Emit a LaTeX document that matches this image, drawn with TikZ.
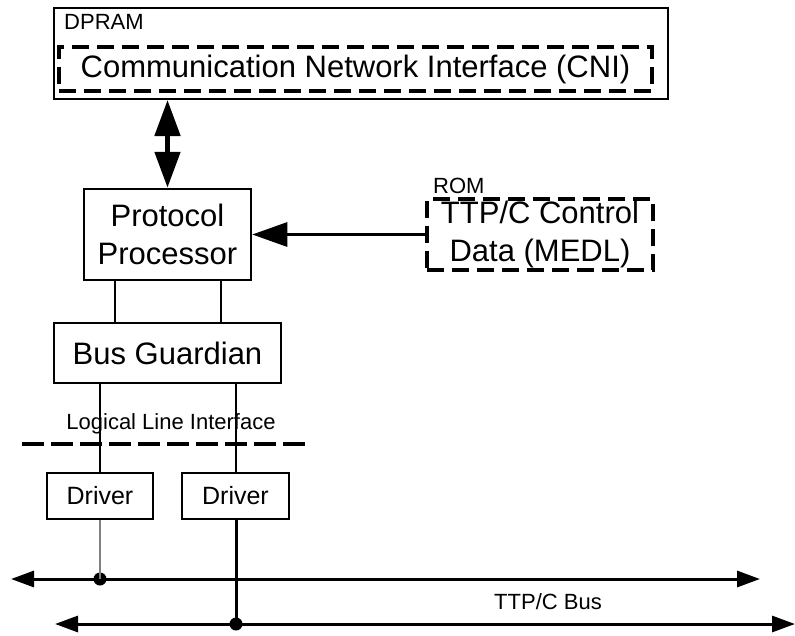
\documentclass[tikz,border=0pt]{standalone}
\usepackage{fontspec}
\setmainfont{Liberation Sans}
\usetikzlibrary{arrows.meta}
\begin{document}
\begin{tikzpicture}[x=1pt,y=-1pt,
  box/.style={draw, line width=2.5pt, rectangle, inner sep=0pt, align=center},
  outerbox/.style={draw, line width=2pt, rectangle, inner sep=0pt},
  dbox/.style={draw, line width=4pt, dash pattern=on 17pt off 8pt, rectangle, inner sep=0pt, align=center},
  big/.style={font=\fontsize{31}{38}\selectfont},
  mid/.style={font=\fontsize{25}{30}\selectfont},
  small/.style={font=\fontsize{22}{26}\selectfont},
  wire/.style={line width=2.5pt},
  busline/.style={line width=3pt, {Triangle[length=23pt,width=16pt]}-{Triangle[length=23pt,width=16pt]}},
  dot/.style={circle, fill=black, inner sep=0pt, minimum size=13pt}
]
\useasboundingbox (0,0) rectangle (795,635);

% memory blocks
\node[outerbox, minimum width=614pt, minimum height=91pt] (dpram) at (361,53.5) {};
\node[small, anchor=base west, inner sep=0pt] (dpramlbl) at (64,29) {DPRAM};
\node[dbox, big, minimum width=593pt, minimum height=44pt] (cni) at (355.5,69) {Communication Network Interface (CNI)};

\node[dbox, big, minimum width=226pt, minimum height=71pt] (medl) at (540,234.5) {TTP/C Control\\Data (MEDL)};
\node[small, anchor=base west, inner sep=0pt] (romlbl) at (433,193) {ROM};

% controller chain
\node[box, big, minimum width=167pt, minimum height=91pt] (pp) at (167.5,234.5) {Protocol\\Processor};
\node[box, big, minimum width=227pt, minimum height=60pt] (bg) at (167.5,353) {Bus Guardian};
\node[box, mid, minimum width=106pt, minimum height=46pt] (drv1) at (100,496) {Driver};
\node[box, mid, minimum width=107pt, minimum height=46pt] (drv2) at (235.5,496) {Driver};

% interface line
\coordinate (lliA) at (22,444);
\coordinate (lliB) at (312,444);
\draw[line width=4pt, dash pattern=on 22pt off 7pt] (lliA) -- (lliB);
\node[small] (llilbl) at (171,424) {Logical Line Interface};

% arrows into the protocol processor
\draw[line width=5pt, {Triangle[length=36pt,width=25pt]}-{Triangle[length=36pt,width=25pt]}]
  (dpram.south -| pp.north) -- (pp.north);
\draw[line width=3pt, -{Triangle[length=35pt,width=24pt]}] (medl.west) -- (pp.east);

% processor to guardian to drivers
\draw[wire] (pp.south -| 115,0) -- (bg.north -| 115,0);
\draw[wire] (pp.south -| 221,0) -- (bg.north -| 221,0);
\draw[wire] (bg.south -| drv1.north) -- (drv1.north);
\draw[wire] (bg.south -| 236,0) -- (drv2.north -| 236,0);

% the two bus channels
\coordinate (busAl) at (11,579);
\coordinate (busAr) at (760,579);
\coordinate (busBl) at (55,624);
\coordinate (busBr) at (795,624);
\draw[busline] (busAl) -- (busAr);
\draw[busline] (busBl) -- (busBr);
\node[small] (buslbl) at (548,602) {TTP/C Bus};

\node[dot] (tapA) at (100,579) {};
\node[dot] (tapB) at (236,624) {};
\draw[line width=1.5pt, gray] (drv1.south) -- (tapA.center);
\draw[line width=3pt] (drv2.south -| tapB) -- (tapB.center);
\end{tikzpicture}
\end{document}
